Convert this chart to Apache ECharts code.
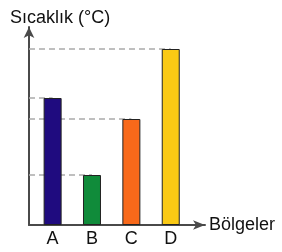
<!DOCTYPE html>
<html>
<head>
<meta charset="utf-8">
<script src="https://cdn.jsdelivr.net/npm/echarts@6/dist/echarts.min.js"></script>
<style>
  html, body { margin: 0; padding: 0; background: #fff; }
  #chart { width: 282px; height: 252px; }
</style>
</head>
<body>
<div id="chart"></div>
<script>
var regions = ['A', 'B', 'C', 'D'];
var temps = [127, 50, 106, 176];
var colors = ['#1f0b7f', '#108b3a', '#f8691a', '#fac914'];

var font = 'Liberation Sans, Arial, sans-serif';

// bars sit on a value axis at 1..4 so the axis can start right at the y-axis line
var barData = regions.map(function (r, i) {
  return {
    value: [i + 1, temps[i]],
    itemStyle: { color: colors[i] }
  };
});

// dashed guide from the y axis to each bar top
var guides = temps.map(function (t, i) {
  return [{ coord: [0.4, t] }, { coord: [i + 1, t] }];
});

echarts.init(document.querySelector('#chart')).setOption({
  animation: false,
  grid: { left: 29, right: 77, top: 27, bottom: 27 },
  xAxis: {
    type: 'value',
    min: 0.4,
    max: 4.87,
    name: 'Bölgeler',
    nameLocation: 'end',
    nameGap: 4,
    nameTextStyle: { fontSize: 18, color: '#111', fontFamily: font },
    axisLine: {
      lineStyle: { color: '#4a4a4a', width: 2 },
      symbol: ['none', 'arrow'],
      symbolSize: [7, 12]
    },
    axisTick: { show: false },
    splitLine: { show: false },
    axisLabel: {
      customValues: [1, 2, 3, 4],
      formatter: function (v) { return regions[Math.round(v) - 1] || ''; },
      fontSize: 18,
      color: '#111',
      fontFamily: font,
      margin: 5
    }
  },
  yAxis: {
    type: 'value',
    min: 0,
    max: 198,
    name: 'Sıcaklık (°C)',
    nameLocation: 'end',
    nameGap: 0,
    nameTextStyle: {
      fontSize: 18, color: '#111', fontFamily: font,
      align: 'left', padding: [0, 0, 0, -19]
    },
    axisLine: {
      show: true,
      lineStyle: { color: '#4a4a4a', width: 2 },
      symbol: ['none', 'arrow'],
      symbolSize: [8, 11]
    },
    axisTick: { show: false },
    axisLabel: { show: false },
    splitLine: { show: false }
  },
  series: [{
    type: 'bar',
    z: 3,
    barWidth: 18,
    data: barData,
    itemStyle: { borderColor: '#222', borderWidth: 1 },
    markLine: {
      z: 1,
      silent: true,
      symbol: ['none', 'none'],
      label: { show: false },
      lineStyle: { color: '#aaa', type: [6, 4], width: 1.5 },
      data: guides
    }
  }]
});
</script>
</body>
</html>
